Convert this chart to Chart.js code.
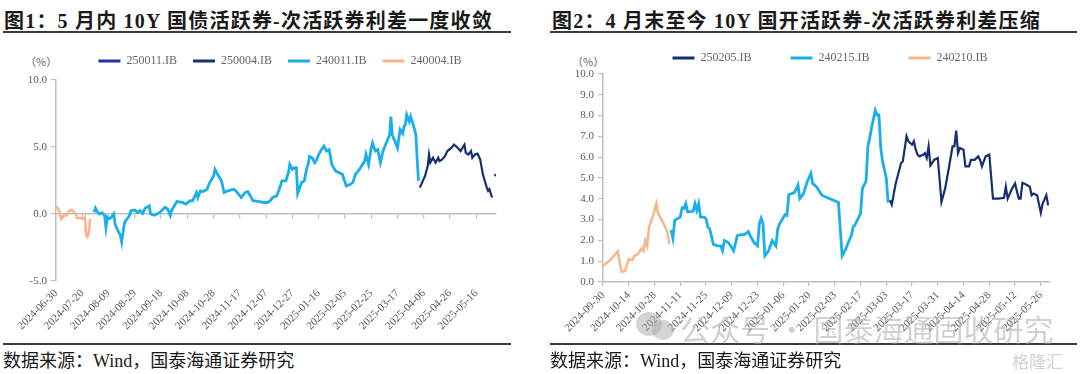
<!DOCTYPE html>
<html><head><meta charset="utf-8">
<script src="https://cdn.jsdelivr.net/npm/chart.js@4.4.1/dist/chart.umd.min.js"></script>
<style>
body{margin:0;width:1080px;height:374px;background:#fff;position:relative;overflow:hidden;font-family:"Liberation Serif","Noto Sans CJK SC",serif;}
.title{position:absolute;top:5px;font-size:20px;font-weight:bold;color:#1a1a1a;white-space:nowrap;letter-spacing:1.2px;}
.rule{position:absolute;height:2px;background:#3a3a3a;}
.src{position:absolute;top:346px;font-size:18px;color:#1a1a1a;white-space:nowrap;}
.unit{position:absolute;top:53px;font-size:11px;color:#666;font-family:"Noto Sans CJK SC";}
.wm{position:absolute;color:rgba(170,170,170,0.55);white-space:nowrap;font-family:"Noto Sans CJK SC";}
.dot{position:absolute;border-radius:50%;background:rgba(170,170,170,0.5);}
canvas{position:absolute;}
</style></head>
<body>
<div class="title" style="left:4px">图1：5 月内 10Y 国债活跃券-次活跃券利差一度收敛</div>
<div class="rule" style="left:3px;top:31px;width:508px"></div>
<div class="title" style="left:552px">图2：4 月末至今 10Y 国开活跃券-次活跃券利差压缩</div>
<div class="rule" style="left:550px;top:31px;width:527px"></div>
<div class="unit" style="left:25px">（%）</div>
<div class="unit" style="left:572px">（%）</div>
<canvas id="c1" width="560" height="302" style="left:0;top:39px"></canvas>
<canvas id="c2" width="580" height="329" style="left:540px;top:13px"></canvas>
<div class="rule" style="left:3px;top:343px;width:508px"></div>
<div class="rule" style="left:550px;top:343px;width:527px"></div>
<div class="src" style="left:3px">数据来源：Wind，国泰海通证券研究</div>
<div class="src" style="left:550px">数据来源：Wind，国泰海通证券研究</div>
<div class="dot" style="left:636px;top:312px;width:26px;height:24px"></div>
<div class="dot" style="left:652px;top:320px;width:22px;height:20px"></div>
<div class="wm" style="left:680px;top:306px;font-size:30px">公众号 · 国泰海通固收研究</div>
<div class="wm" style="left:1012px;top:348px;font-size:17px">格隆汇</div>
<script>
// ---------- Chart 1 data (x = days since 2024-06-30) ----------
const xTicks1 = ['2024-06-30','2024-07-20','2024-08-09','2024-08-29','2024-09-18','2024-10-08','2024-10-28','2024-11-17','2024-12-07','2024-12-27','2025-01-16','2025-02-05','2025-02-25','2025-03-17','2025-04-06','2025-04-26','2025-05-16'];
const d240004 = [0,2,4,6,8,10,12,14,15,16,19,21,22,23,24,25,26];
const v240004 = [0.6,0.35,-0.37,-0.12,-0.12,0.24,0.3,0.12,0,-0.3,-0.3,-0.37,-0.25,-1.6,-1.7,-1.4,-0.37];
const d240011 = [29,30,32,33,35,37,38,39,40,42,44,45,47,49,50,52,53,55,56,57,60,62,64,66,68,71,72,75,79,83,85,87,88,92,96,99,102,104,107,108,110,112,115,117,120,121,123,126,128,131,135,137,141,144,146,150,155,158,161,163,165,168,170,172,175,177,178,180,182,183,184,187,189,191,192,193,195,197,198,200,202,204,206,208,210,213,218,221,224,226,228,231,235,236,238,240,241,243,245,247,249,252,254,255,256,258,260,262,264,265,266,267,269,270,272,274,275,276];
const v240011 = [0.12,0.45,0.1,0,0.1,-0.12,-1.0,-0.25,-0.37,-0.25,0,-0.74,-1.23,-1.6,-2.1,-0.74,-0.5,-0.25,-0.1,0.25,0.3,0.12,0.25,0.05,0.45,0.6,0,-0.1,0.12,0.5,0.37,-0.12,0.25,0.93,0.86,0.74,1.0,0.98,1.6,1.23,1.73,1.68,1.85,2.35,2.84,3.33,2.96,2.47,1.6,1.73,1.85,1.73,1.23,1.6,1.68,1.0,0.93,0.86,0.86,0.98,1.23,1.35,1.85,2.47,2.47,3.1,3.7,3.33,3.46,3.46,1.53,2.35,2.47,3.46,3.7,4.3,4.2,3.83,3.95,4.44,4.8,5.06,4.7,4.8,3.7,3.2,2.96,2.1,2.2,2.35,2.96,3.33,3.95,4.44,3.7,4.93,5.3,4.7,4.8,3.83,4.7,5.43,5.9,7.27,5.9,5.43,4.93,6.3,6.0,6.54,6.66,7.4,6.9,7.27,6.66,5.92,4.07,2.47];
const d250004 = [277,281,283,284,285,287,289,291,292,294,296,298,301,303,306,308,311,312,314,316,317,319,321,323,325,328,329,330,332];
const v250004 = [1.97,2.84,3.58,4.44,3.83,4.2,3.83,4.2,3.95,4.07,4.3,4.7,4.93,5.18,4.93,4.7,5.18,4.56,4.44,4.7,4.2,4.44,4.5,4.07,2.96,1.97,1.73,1.85,1.23];
const d250011 = [334,335];
const v250011 = [2.84,2.96];

// ---------- Chart 2 data (x = days since 2024-09-30) ----------
const xTicks2 = ['2024-09-30','2024-10-14','2024-10-28','2024-11-11','2024-11-25','2024-12-09','2024-12-23','2025-01-06','2025-01-20','2025-02-03','2025-02-17','2025-03-03','2025-03-17','2025-03-31','2025-04-14','2025-04-28','2025-05-12','2025-05-26'];
const d240210 = [0,4,8,10,12,14,16,17,19,21,22,23,24,25,27,29,30,32,33,35,36];
const v240210 = [0.78,1.07,1.47,0.49,0.53,1.1,1.05,1.26,1.34,1.62,1.5,1.99,1.74,2.64,3.12,3.77,3.29,2.96,2.8,2.4,1.82];
const d240215 = [37,38,39,41,42,43,44,45,46,49,50,51,52,53,55,56,57,58,60,62,64,65,66,68,70,71,73,75,77,79,80,82,84,85,86,87,88,90,92,94,95,96,99,100,101,104,105,106,107,109,111,113,114,116,119,123,128,130,132,133,135,136,137,140,141,143,144,145,146,148,149,150,151,152,154,155];
const v240215 = [2.5,2.1,2.96,3.07,3.12,3.56,3.53,3.77,3.37,3.4,3.77,3.45,3.77,3.12,3.12,3.04,2.64,2.56,1.82,1.74,1.74,1.5,1.99,1.91,1.66,1.5,2.23,2.28,2.28,2.43,2.23,1.91,1.74,2.8,3.07,2.8,1.26,1.5,1.99,1.74,2.56,2.8,3.24,3.2,4.2,4.3,4.46,4.66,4.01,4.25,4.82,5.23,4.74,4.58,4.17,4.01,3.82,1.26,1.59,1.83,2.23,2.64,2.75,3.29,4.5,4.85,6.52,6.93,7.41,8.25,8.03,8.03,6.44,5.8,4.99,3.82];
const d250205 = [156,157,159,162,163,165,166,168,169,170,171,172,174,175,176,177,178,180,182,184,186,188,190,191,192,193,194,196,197,199,200,202,204,205,206,208,210,212,215,218,219,220,222,224,226,227,228,230,232,233,234,236,238,239,241,242];
const v250205 = [3.93,3.72,4.69,5.71,5.8,7.01,6.77,6.6,6.77,6.36,6.12,6.04,6.12,6.2,5.96,6.52,5.6,5.87,5.96,3.85,4.5,5.47,6.52,6.52,7.28,6.2,6.44,6.36,5.56,5.56,5.87,5.87,6.04,5.87,5.56,6.04,6.12,4.01,4.01,4.05,4.58,4.01,4.42,4.74,4.01,4.01,4.77,4.69,4.58,4.17,4.25,4.17,3.33,3.77,4.17,3.69];

const NAVY = '#172f6e', LBLUE = '#1aafe9', ORANGE = '#f9b489', VIOLET = '#2b2bb0';
const AXIS = '#bfbfbf', TXT = '#595959';
const FONT = "'Liberation Serif','Times New Roman',serif";

const pts = (d, v) => d.map((x, i) => ({x, y: v[i]}));
const ds = (label, d, v, color, w) => ({label, data: pts(d, v), borderColor: color, backgroundColor: color, borderWidth: w, pointRadius: 0, tension: 0, fill: false});

const legendOpts = (pad) => ({
  position: 'top', align: 'center',
  labels: {
    boxWidth: 22, boxHeight: 3, padding: pad, color: '#666', font: {family: FONT, size: 12},
    generateLabels: ch => ch.data.datasets.map((d, i) => ({text: d.label, fillStyle: d.borderColor, strokeStyle: d.borderColor, lineWidth: 0, hidden: false, datasetIndex: i, fontColor: '#666'}))
  }
});

const tickFont = {family: FONT, size: 11};
const spacer = (pos, size) => ({position: pos, display: true, ticks: {display: false}, grid: {display: false, drawTicks: false}, border: {display: false},
  afterFit: s => { if (pos === 'top' || pos === 'bottom') s.height = size; else s.width = size; }});

new Chart(document.getElementById('c1'), {
  type: 'line',
  data: {datasets: [
    ds('250011.IB', d250011, v250011, VIOLET, 2.5),
    ds('250004.IB', d250004, v250004, NAVY, 2.2),
    ds('240011.IB', d240011, v240011, LBLUE, 2.8),
    ds('240004.IB', d240004, v240004, ORANGE, 2.5)
  ]},
  options: {
    responsive: false, animation: false,
    plugins: {legend: legendOpts(16), tooltip: {enabled: false}},
    scales: {
      x: {type: 'linear', position: 'bottom', min: 0, max: 335,
        ticks: {stepSize: 20, includeBounds: false, autoSkip: false, maxRotation: 45, minRotation: 45, padding: 6,
          color: TXT, font: tickFont, callback: v => xTicks1[v / 20] ?? ''},
        grid: {display: false, drawTicks: false}, border: {display: false},
        afterFit: s => { s.height = 60; }},
      xz: {type: 'linear', position: {y: 0}, min: 0, max: 335,
        ticks: {stepSize: 20, includeBounds: false, autoSkip: false, callback: () => ''},
        grid: {drawOnChartArea: false, drawTicks: true, tickLength: 4, color: AXIS, lineWidth: 1.2},
        border: {color: AXIS, width: 1.5}},
      xTop: spacer('top', 3),
      y: {type: 'linear', position: 'left', min: -5, max: 10,
        ticks: {stepSize: 5, padding: 4, color: TXT, font: tickFont, callback: v => v.toFixed(1)},
        grid: {drawOnChartArea: false, drawTicks: true, tickLength: 5, color: AXIS, lineWidth: 1.2},
        border: {color: AXIS, width: 1.5},
        afterFit: s => { s.width = 56; }},
      yR: spacer('right', 64)
    }
  }
});

new Chart(document.getElementById('c2'), {
  type: 'line',
  data: {datasets: [
    ds('250205.IB', d250205, v250205, NAVY, 2.2),
    ds('240215.IB', d240215, v240215, LBLUE, 2.8),
    ds('240210.IB', d240210, v240210, ORANGE, 2.5)
  ]},
  options: {
    responsive: false, animation: false,
    plugins: {legend: legendOpts(39), tooltip: {enabled: false}},
    scales: {
      x: {type: 'linear', position: 'bottom', min: 0, max: 243,
        ticks: {stepSize: 14, includeBounds: false, autoSkip: false, maxRotation: 45, minRotation: 45, padding: 3,
          color: TXT, font: tickFont, callback: v => xTicks2[v / 14] ?? ''},
        grid: {drawOnChartArea: false, drawTicks: true, tickLength: 4, color: AXIS, lineWidth: 1.2},
        border: {color: AXIS, width: 1.5},
        afterFit: s => { s.height = 60; }},
      y: {type: 'linear', position: 'left', min: 0, max: 10,
        ticks: {stepSize: 1, padding: 4, color: TXT, font: tickFont, callback: v => v.toFixed(1)},
        grid: {drawOnChartArea: false, drawTicks: true, tickLength: 5, color: AXIS, lineWidth: 1.2},
        border: {color: AXIS, width: 1.5},
        afterFit: s => { s.width = 63; }},
      yR: spacer('right', 70)
    }
  }
});
</script>
</body></html>
